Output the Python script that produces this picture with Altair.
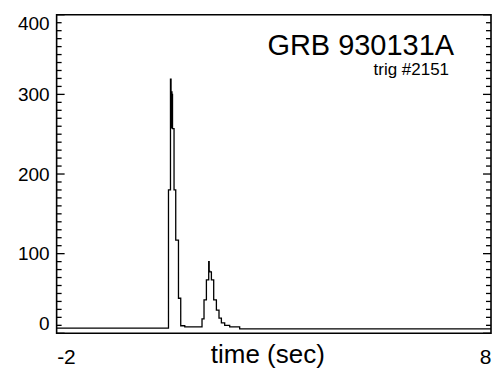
import altair as alt
import pandas as pd

# light curve (step histogram): bin start times (s) and counts
times = [-2.0, 0.575, 0.621, 0.634, 0.641, 0.648, 0.655, 0.662, 0.668, 0.703, 0.742, 0.805,
         0.857, 0.95, 1.347, 1.393, 1.448, 1.501, 1.512, 1.524, 1.563, 1.616, 1.678,
         1.738, 1.793, 1.869, 1.984, 2.214, 8.0]
counts = [6.5, 180, 319, 303, 258, 303, 260, 300, 257, 180, 117, 44,
          9.5, 8, 18, 42, 67, 90, 78, 77, 67, 42, 29,
          19, 13, 10, 8, 5.5, 5.5]

x_ticks = [-2, 8]
y_major = [0, 100, 200, 300, 400]
y_minor = [v for v in range(0, 401, 10) if v % 100 != 0]

title_text = "GRB 930131A"
trig_text = "trig #2151"

FONT = "Liberation Sans"
W, H = 435, 319

df = pd.DataFrame({"t": times, "c": counts})
major_df = pd.DataFrame({"v": y_major})
minor_df = pd.DataFrame({"v": y_minor})

xscale = alt.Scale(domain=[-2, 8], nice=False, zero=False)
yscale = alt.Scale(domain=[0, 400], nice=False)

line = alt.Chart(df).mark_line(interpolate="step-after", color="black", strokeWidth=1.3).encode(
    x=alt.X("t:Q", scale=xscale,
            axis=alt.Axis(values=x_ticks, title="time (sec)", grid=False, domain=False,
                          ticks=False, tickSize=0, labelPadding=13, labelFont=FONT,
                          labelFontSize=21, labelColor="black", labelBaseline="top",
                          labelExpr="datum.value < 0 ? '-' + abs(datum.value) : datum.label",
                          titleFont=FONT, titleFontSize=26, titleFontWeight="normal",
                          titleColor="black", titleY=29.5, titleX=211,
                          titleBaseline="alphabetic", titleAlign="center")),
    y=alt.Y("c:Q", scale=yscale,
            axis=alt.Axis(values=y_major, title=None, grid=False, domain=False,
                          ticks=False, tickSize=0, labelPadding=7.5, labelFont=FONT,
                          labelFontSize=19, labelColor="black", labelFlush=True)),
)

def tick_layer(data, x1, x2):
    return alt.Chart(data).mark_rule(color="black", strokeWidth=1.3).encode(
        y=alt.Y("v:Q", scale=yscale), x=alt.value(x1), x2=alt.value(x2))

ticks = [
    tick_layer(major_df, 0, 8), tick_layer(minor_df, 0, 5),
    tick_layer(major_df, W, W - 8), tick_layer(minor_df, W, W - 5),
]

t1 = alt.Chart(pd.DataFrame({"s": [title_text]})).mark_text(
    font=FONT, fontSize=29, align="right", baseline="alphabetic", color="black"
).encode(text="s:N", x=alt.value(398), y=alt.value(40.5))
t2 = alt.Chart(pd.DataFrame({"s": [trig_text]})).mark_text(
    font=FONT, fontSize=17, align="right", baseline="alphabetic", color="black"
).encode(text="s:N", x=alt.value(393), y=alt.value(60.5))

chart = alt.layer(line, *ticks, t1, t2).properties(
    width=W, height=H,
    autosize=alt.AutoSizeParams(type="none"),
    padding={"left": 48.7, "top": 6.5, "right": 3, "bottom": 36},
    background="white",
).configure_view(stroke="black", strokeWidth=1.6)

chart.save("out.html", embed_options={"renderer": "svg", "actions": False})
